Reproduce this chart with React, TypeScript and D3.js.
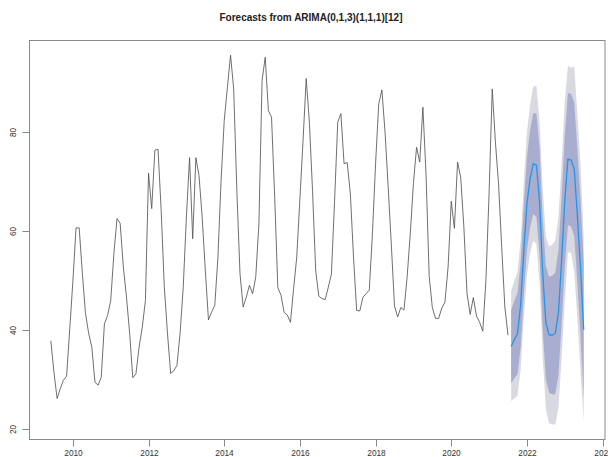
import React from "react";
import * as d3 from "d3";

// monthly series, starts June 2009
const obsStart = 2009 + 5 / 12;
const freq = 12;
const observed = [
  37.8, 31.4, 26.1, 28.1, 29.8, 30.6, 40.1,
  49.8, 60.6, 60.6, 51.4, 43.3, 39.3, 36.5, 29.4, 28.8, 30.4, 41.2, 42.9,
  45.9, 55.4, 62.5, 61.5, 52.7, 46.6, 39.3, 30.3, 31.1, 36.5, 40.5, 45.9,
  71.7, 64.5, 76.3, 76.5, 64.1, 48.6, 39.3, 31.2, 31.7, 32.8, 39.3, 48.6,
  62.8, 74.8, 58.4, 74.8, 71.2, 62.8, 52.0, 42.0, 43.6, 44.9, 54.7, 70.2,
  82.3, 89.0, 95.5, 88.7, 68.2, 51.3, 44.6, 46.6, 49.0, 47.3, 50.7, 61.4,
  90.4, 95.1, 84.3, 83.0, 66.9, 48.5, 47.0, 43.5, 43.0, 41.5, 48.3, 54.7,
  66.5, 78.3, 90.8, 82.0, 68.2, 52.0, 46.8, 46.3, 46.1, 48.6, 51.3, 66.1,
  82.0, 83.7, 73.6, 73.8, 67.5, 54.7, 43.9, 43.8, 46.6, 47.3, 48.0, 59.4,
  73.6, 85.7, 88.5, 80.0, 68.8, 57.1, 44.8, 42.6, 44.5, 44.0, 50.6, 59.4,
  69.6, 76.9, 73.9, 85.0, 71.5, 50.8, 44.5, 42.3, 42.3, 44.4, 45.6, 52.7,
  66.0, 60.5, 73.9, 70.8, 60.8, 47.3, 43.1, 46.5, 42.8, 41.5, 39.7, 50.1,
  67.6, 88.7, 78.0, 69.5, 56.7, 44.6, 38.9,
];

// 24 month forecast, starts August 2021
const fcStart = 2021 + 7 / 12;
const fcMean = [
  36.6, 38.0, 39.2, 45.0, 56.0, 65.5, 70.5, 73.6, 73.3, 66.0, 51.5, 41.5,
  39.0, 38.9, 39.3, 43.5, 54.0, 66.0, 74.5, 74.3, 72.5, 63.0, 52.5, 40.0,
];
const fcLo80 = [
  29.2, 30.2, 31.0, 36.4, 47.0, 56.1, 60.7, 63.4, 62.8, 55.2, 40.4, 30.1,
  27.3, 26.9, 27.0, 30.9, 41.1, 52.8, 61.2, 60.9, 59.0, 49.4, 38.8, 26.2,
];
const fcHi80 = [
  44.0, 45.8, 47.4, 53.6, 65.0, 74.9, 80.3, 83.8, 83.8, 76.8, 62.6, 52.9,
  50.7, 50.9, 51.6, 56.1, 66.9, 79.2, 87.8, 87.7, 86.0, 76.6, 66.2, 53.8,
];
const fcLo95 = [
  25.6, 26.1, 26.7, 31.9, 42.3, 51.1, 55.5, 58.0, 57.3, 49.5, 34.5, 24.1,
  21.1, 20.9, 20.8, 24.3, 34.3, 45.8, 55.6, 55.6, 51.8, 42.2, 31.5, 21.5,
];
const fcHi95 = [
  47.8, 49.9, 51.7, 58.1, 69.7, 79.9, 85.5, 89.2, 89.3, 82.5, 68.5, 58.9,
  56.9, 57.2, 58.1, 62.7, 73.7, 86.2, 93.4, 93.0, 93.2, 83.8, 73.5, 58.5,
];

const xTicks = [2010, 2012, 2014, 2016, 2018, 2020, 2022, 2024];
const yTicks = [20, 40, 60, 80];
const title = "Forecasts from ARIMA(0,1,3)(1,1,1)[12]";

const W = 608;
const H = 457;
const plot = { left: 29.5, right: 605, top: 40.5, bottom: 439.5 };

// R style axis range: data range plus 4%
const pad = ([a, b]: number[]) => {
  const d = (b - a) * 0.04;
  return [a - d, b + d];
};

export default function App() {
  const obs = observed.map((v, i) => ({ t: obsStart + i / freq, v }));
  const fc = fcMean.map((v, i) => ({
    t: fcStart + i / freq,
    v,
    lo80: fcLo80[i],
    hi80: fcHi80[i],
    lo95: fcLo95[i],
    hi95: fcHi95[i],
  }));

  const tExt = [obs[0].t, fc[fc.length - 1].t];
  const vExt = [
    d3.min([...observed, ...fcLo95]) as number,
    d3.max([...observed, ...fcHi95]) as number,
  ];

  const x = d3.scaleLinear().domain(pad(tExt)).range([plot.left, plot.right]);
  const y = d3.scaleLinear().domain(pad(vExt)).range([plot.bottom, plot.top]);

  const line = d3
    .line<{ t: number; v: number }>()
    .x((d) => x(d.t))
    .y((d) => y(d.v));

  const band95 = d3
    .area<any>()
    .x((d) => x(d.t))
    .y0((d) => y(d.lo95))
    .y1((d) => y(d.hi95));

  const band80 = d3
    .area<any>()
    .x((d) => x(d.t))
    .y0((d) => y(d.lo80))
    .y1((d) => y(d.hi80));

  const font = "'Liberation Sans', Arial, sans-serif";

  return (
    <svg
      width={W}
      height={H}
      style={{ position: "absolute", left: 0, top: 0, background: "#fff" }}
      fontFamily={font}
    >
      <text
        x={311}
        y={21}
        textAnchor="middle"
        fontSize={10}
        fontWeight="bold"
        fill="#222"
      >
        {title}
      </text>

      <path d={band95(fc) || ""} fill="#d9d9e1" stroke="none" />
      <path d={band80(fc) || ""} fill="#a9add0" stroke="none" />

      <path d={line(obs) || ""} fill="none" stroke="#555" strokeWidth={0.85} />
      <path d={line(fc) || ""} fill="none" stroke="#2297E6" strokeWidth={1.3} />

      <rect
        x={plot.left}
        y={plot.top}
        width={plot.right - plot.left}
        height={plot.bottom - plot.top}
        fill="none"
        stroke="#888"
        strokeWidth={1}
      />

      {/* x axis */}
      {xTicks.map((t) => (
        <g key={t} transform={`translate(${Math.round(x(t)) + 0.5},0)`}>
          <line y1={plot.bottom} y2={plot.bottom + 7} stroke="#888" />
          <text y={456} textAnchor="middle" fontSize={8.3} fill="#333">
            {t}
          </text>
        </g>
      ))}

      {/* y axis */}
      {yTicks.map((v) => (
        <g key={v} transform={`translate(0,${Math.round(y(v)) + 0.5})`}>
          <line x1={plot.left - 7} x2={plot.left} stroke="#888" />
          <text
            transform="translate(15.5,0) rotate(-90)"
            textAnchor="middle"
            fontSize={8.3}
            fill="#333"
          >
            {v}
          </text>
        </g>
      ))}
    </svg>
  );
}
